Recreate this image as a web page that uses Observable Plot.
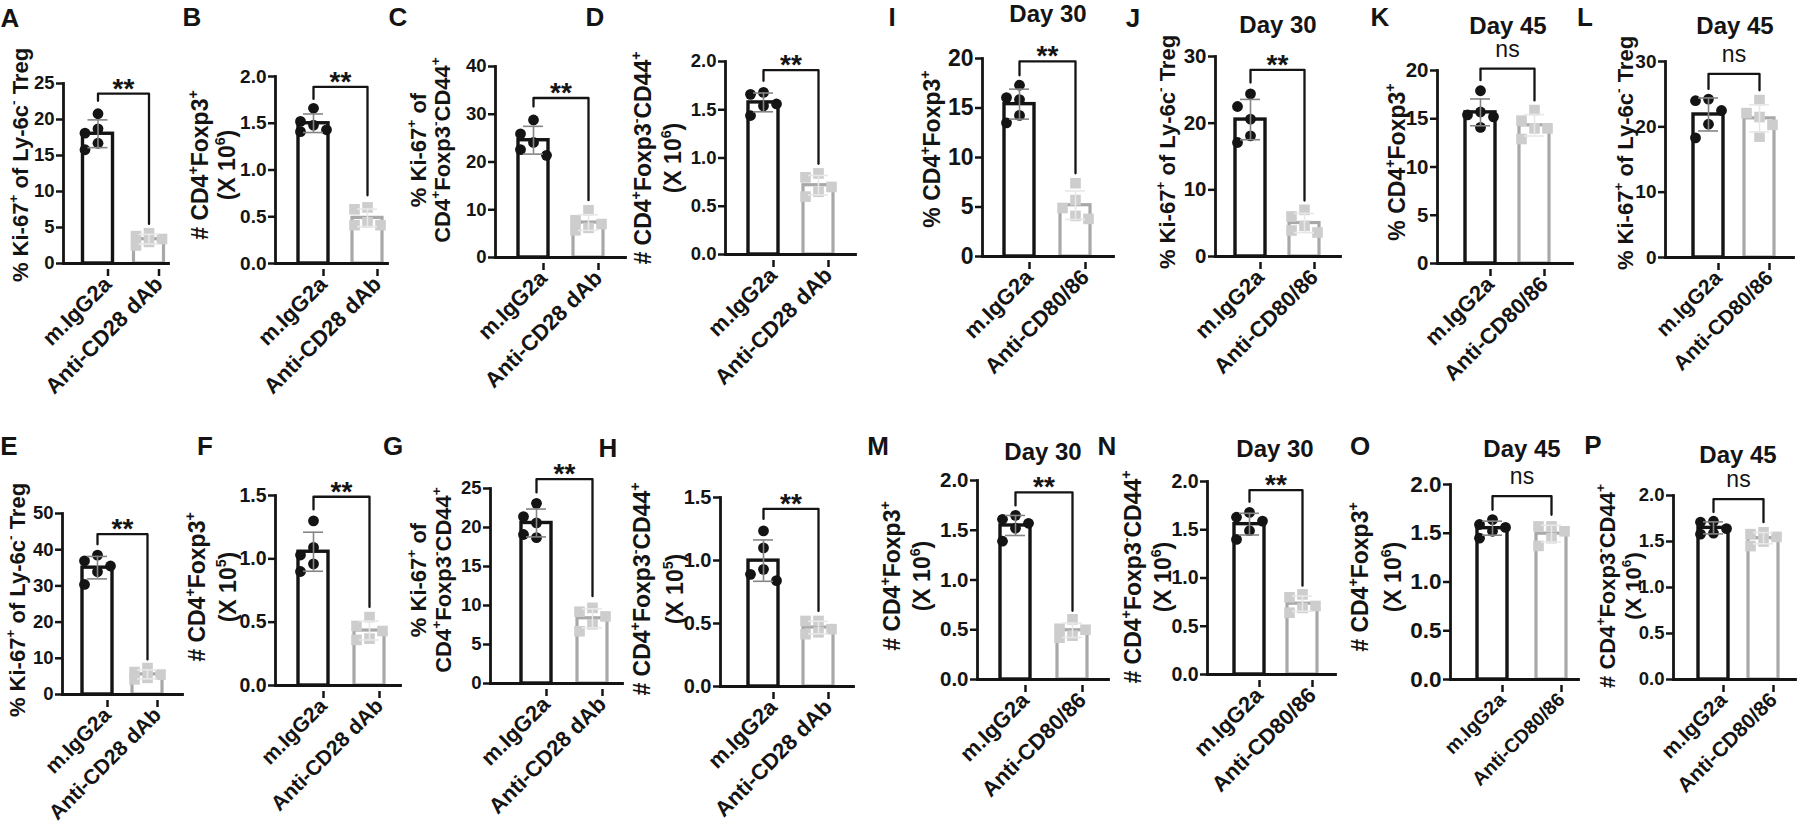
<!DOCTYPE html>
<html><head><meta charset="utf-8">
<script src="https://cdn.jsdelivr.net/npm/d3@7"></script>
<script src="https://cdn.jsdelivr.net/npm/@observablehq/plot@0.6"></script>
<style>
body{margin:0;background:#fff}
#fig{position:relative;width:1800px;height:832px;overflow:hidden;background:#fff}
#fig svg{position:absolute;left:0;overflow:visible}
</style>
</head><body><div id="fig"></div>
<script>
// ---------- DATA ----------
const groupsCD28 = ["m.IgG2a", "Anti-CD28 dAb"];
const groupsCD80 = ["m.IgG2a", "Anti-CD80/86"];

const A_ctrl = [20.8, 18.7, 18.1, 16.7, 15.8], A_trt = [4.2, 3.8, 3.4, 3.0, 2.5];
const B_ctrl = [1.66, 1.52, 1.48, 1.43, 1.41], B_trt = [0.60, 0.58, 0.44, 0.41, 0.41];
const C_ctrl = [28.8, 25.9, 24.1, 22.6, 21.4], C_trt = [9.9, 7.8, 7.0, 6.2, 5.7];
const D_ctrl = [1.68, 1.66, 1.56, 1.54, 1.44], D_trt = [0.84, 0.80, 0.70, 0.65, 0.60];
const E_ctrl = [38.5, 36.9, 35.5, 33.9, 30.4], E_trt = [7.3, 6.2, 5.5, 4.6, 4.2];
const F_ctrl = [1.30, 1.09, 1.03, 0.96, 0.90], F_trt = [0.54, 0.47, 0.43, 0.37, 0.36];
const G_ctrl = [23.1, 21.4, 20.6, 19.1, 18.7], G_trt = [9.7, 9.2, 8.6, 7.6, 6.7];
const H_ctrl = [1.235, 1.10, 0.93, 0.89, 0.84], H_trt = [0.52, 0.52, 0.455, 0.43, 0.415];
const I_ctrl = [17.3, 16.05, 15.85, 14.25, 13.5], I_trt = [7.4, 5.7, 4.9, 4.1, 3.8];
const J_ctrl = [24.4, 22.5, 20.6, 18.1, 17.1], J_trt = [7.0, 6.0, 4.6, 3.9, 3.6];
const K_ctrl = [17.9, 15.7, 15.4, 15.2, 14.1], K_trt = [15.9, 14.8, 14.0, 14.0, 12.9];
const L_ctrl = [24.25, 24.0, 22.5, 20.4, 18.3], L_trt = [24.1, 22.1, 21.5, 20.3, 18.5];
const M_ctrl = [1.65, 1.61, 1.57, 1.52, 1.39], M_trt = [0.605, 0.51, 0.50, 0.44, 0.42];
const N_ctrl = [1.68, 1.63, 1.59, 1.49, 1.40], N_trt = [0.83, 0.80, 0.71, 0.69, 0.64];
const O_ctrl = [1.64, 1.59, 1.56, 1.52, 1.45], O_trt = [1.57, 1.57, 1.52, 1.45, 1.37];
const P_ctrl = [1.72, 1.71, 1.64, 1.59, 1.58], P_trt = [1.60, 1.58, 1.55, 1.50, 1.45];

// significance brackets: [top, left leg end, right leg end] in data units
const A_br = [23.6, 22.6, 5.5], B_br = [1.89, 1.76, 0.73], C_br = [33.4, 31.6, 12.0], D_br = [1.91, 1.80, 0.94];
const E_br = [44.3, 41.5, 9.7], F_br = [1.49, 1.39, 0.62], G_br = [26.2, 24.5, 11.2], H_br = [1.41, 1.33, 0.60];
const I_br = [19.7, 18.3, 8.4], J_br = [28.0, 26.1, 8.4], K_br = [20.2, 19.0, 16.9], L_br = [28.1, 25.8, 25.6];
const M_br = [1.88, 1.75, 0.69], N_br = [1.91, 1.79, 0.92], O_br = [1.88, 1.74, 1.69], P_br = [1.96, 1.82, 1.71];

// tick values
const ticks25 = [0, 5, 10, 15, 20, 25];
const ticks20 = [0, 5, 10, 15, 20];
const ticks30 = [0, 10, 20, 30];
const ticks40 = [0, 10, 20, 30, 40];
const ticks50 = [0, 10, 20, 30, 40, 50];
const ticks2 = [0, 0.5, 1.0, 1.5, 2.0];
const ticks15 = [0, 0.5, 1.0, 1.5];

// axis labels (^x = superscript x)
const labKiLy = ["% Ki-67^+ of Ly-6c^- Treg"];
const labKiCD44 = ["% Ki-67^+ of", "CD4^+Foxp3^-CD44^+"];
const labPctTreg = ["% CD4^+Foxp3^+"];
const labNTreg6 = ["# CD4^+Foxp3^+", "(X 10^6)"];
const labNTreg5 = ["# CD4^+Foxp3^+", "(X 10^5)"];
const labNCD44_6 = ["# CD4^+Foxp3^-CD44^+", "(X 10^6)"];
const labNCD44_5 = ["# CD4^+Foxp3^-CD44^+", "(X 10^5)"];

// ---------- LAYOUT ----------
const FONT = "'Liberation Sans', Arial, Helvetica, sans-serif";
const panels = [
 {id:"A", row:0, ctrl:A_ctrl, trt:A_trt, groups:groupsCD28, ticks:ticks25, br:A_br, sig:"**", ylab:labKiLy,
  ax:63, axR:168, yTop:83, y0:263, c1:97.5, c2:148.5, letter:[10,27], ylx:[20], yly:165, tfs:18.5, yfs:22, xfs:22},
 {id:"B", row:0, ctrl:B_ctrl, trt:B_trt, groups:groupsCD28, ticks:ticks2, br:B_br, sig:"**", ylab:labNTreg6,
  ax:275, axR:387, yTop:76, y0:263, c1:313, c2:367, letter:[192,26], ylx:[200,227], yly:165, tfs:19, yfs:23, xfs:22},
 {id:"C", row:0, ctrl:C_ctrl, trt:C_trt, groups:groupsCD28, ticks:ticks40, br:C_br, sig:"**", ylab:labKiCD44,
  ax:495, axR:625, yTop:66, y0:257, c1:533, c2:588, letter:[398,26], ylx:[418,442], yly:150, tfs:18.5, yfs:22, xfs:22},
 {id:"D", row:0, ctrl:D_ctrl, trt:D_trt, groups:groupsCD28, ticks:ticks2, br:D_br, sig:"**", ylab:labNCD44_6,
  ax:725, axR:855, yTop:61, y0:254, c1:763, c2:818, letter:[595,26], ylx:[643,673], yly:158, tfs:18.5, yfs:23, xfs:22},
 {id:"I", row:0, ctrl:I_ctrl, trt:I_trt, groups:groupsCD80, ticks:ticks20, br:I_br, sig:"**", ylab:labPctTreg, title:"Day 30", tpos:[1048,22],
  ax:982, axR:1113, yTop:58, y0:256, c1:1019, c2:1075, letter:[892,26], ylx:[932], yly:149, tfs:23, yfs:23, xfs:22},
 {id:"J", row:0, ctrl:J_ctrl, trt:J_trt, groups:groupsCD80, ticks:ticks30, br:J_br, sig:"**", ylab:labKiLy, title:"Day 30", tpos:[1278,33],
  ax:1215, axR:1340, yTop:56, y0:256, c1:1250, c2:1304, letter:[1133,27], ylx:[1167], yly:152, tfs:20.5, yfs:22, xfs:22},
 {id:"K", row:0, ctrl:K_ctrl, trt:K_trt, groups:groupsCD80, ticks:ticks20, br:K_br, sig:"ns", ylab:labPctTreg, title:"Day 45", tpos:[1508,34],
  ax:1437, axR:1572, yTop:70, y0:263, c1:1480, c2:1534, letter:[1380,26], ylx:[1397], yly:162, tfs:20.5, yfs:23, xfs:22},
 {id:"L", row:0, ctrl:L_ctrl, trt:L_trt, groups:groupsCD80, ticks:ticks30, br:L_br, sig:"ns", ylab:labKiLy, title:"Day 45", tpos:[1735,34],
  ax:1665, axR:1793, yTop:61, y0:257, c1:1708, c2:1759, letter:[1585,26], ylx:[1625], yly:153, tfs:19, yfs:22, xfs:21},
 {id:"E", row:1, ctrl:E_ctrl, trt:E_trt, groups:groupsCD28, ticks:ticks50, br:E_br, sig:"**", ylab:labKiLy,
  ax:62, axR:182, yTop:513, y0:694, c1:97, c2:147, letter:[9,455], ylx:[17], yly:600, tfs:18.5, yfs:22, xfs:21},
 {id:"F", row:1, ctrl:F_ctrl, trt:F_trt, groups:groupsCD28, ticks:ticks15, br:F_br, sig:"**", ylab:labNTreg5,
  ax:275, axR:400, yTop:495, y0:685, c1:313, c2:369, letter:[205,455], ylx:[197,228], yly:587, tfs:19.5, yfs:23, xfs:21},
 {id:"G", row:1, ctrl:G_ctrl, trt:G_trt, groups:groupsCD28, ticks:ticks25, br:G_br, sig:"**", ylab:labKiCD44,
  ax:490, axR:622, yTop:488, y0:683, c1:536, c2:592, letter:[393,455], ylx:[418,443], yly:580, tfs:18.5, yfs:22, xfs:22},
 {id:"H", row:1, ctrl:H_ctrl, trt:H_trt, groups:groupsCD28, ticks:ticks15, br:H_br, sig:"**", ylab:labNCD44_5,
  ax:720, axR:853, yTop:497, y0:686, c1:763, c2:818, letter:[608,457], ylx:[642,675], yly:589, tfs:20, yfs:23, xfs:22},
 {id:"M", row:1, ctrl:M_ctrl, trt:M_trt, groups:groupsCD80, ticks:ticks2, br:M_br, sig:"**", ylab:labNTreg6, title:"Day 30", tpos:[1043,460],
  ax:977, axR:1108, yTop:480, y0:679, c1:1015, c2:1072, letter:[878,455], ylx:[892,922], yly:576, tfs:20.5, yfs:23, xfs:22},
 {id:"N", row:1, ctrl:N_ctrl, trt:N_trt, groups:groupsCD80, ticks:ticks2, br:N_br, sig:"**", ylab:labNCD44_6, title:"Day 30", tpos:[1275,457],
  ax:1207, axR:1335, yTop:481, y0:674, c1:1249, c2:1302, letter:[1107,455], ylx:[1133,1163], yly:577, tfs:19.5, yfs:23, xfs:22},
 {id:"O", row:1, ctrl:O_ctrl, trt:O_trt, groups:groupsCD80, ticks:ticks2, br:O_br, sig:"ns", ylab:labNTreg6, title:"Day 45", tpos:[1522,457],
  ax:1450, axR:1578, yTop:484, y0:679, c1:1492, c2:1551, letter:[1360,455], ylx:[1360,1393], yly:577, tfs:22.5, yfs:23, xfs:19.5},
 {id:"P", row:1, ctrl:P_ctrl, trt:P_trt, groups:groupsCD80, ticks:ticks2, br:P_br, sig:"ns", ylab:labNCD44_6, title:"Day 45", tpos:[1738,463],
  ax:1673, axR:1795, yTop:495, y0:679, c1:1713, c2:1763, letter:[1593,454], ylx:[1607,1633], yly:586, tfs:18.5, yfs:22, xfs:21}
];

// GraphPad-like column scatter: returns column index per value
function swarm(vals, ppu) {
  const order = d3.range(vals.length).sort((a, b) => vals[b] - vals[a]);
  const cols = [0, -1, 1];
  const placed = [], off = new Array(vals.length);
  for (const i of order) {
    let best = 0, bestD = -1;
    for (const c of cols) {
      const ds = placed.filter(q => q.c === c).map(q => Math.abs(q.v - vals[i]) * ppu);
      const m = ds.length ? d3.min(ds) : Infinity;
      if (m >= 14) { best = c; bestD = m; break; }
      if (m > bestD) { bestD = m; best = c; }
    }
    placed.push({c: best, v: vals[i]});
    off[i] = best;
  }
  return off;
}

function rich(sel, str, fs) {
  const parts = str.split(/(\^.)/);
  let raised = false;
  for (const part of parts) {
    if (!part) continue;
    if (part[0] === "^") {
      sel.append("tspan").attr("font-size", fs * 0.62).attr("dy", -fs * 0.42).text(part[1]);
      raised = true;
    } else {
      sel.append("tspan").attr("dy", raised ? fs * 0.42 : 0).text(part);
      raised = false;
    }
  }
}

const fig = document.getElementById("fig");
const H = 416;
for (const p of panels) {
  const rowTop = p.row ? 416 : 0;
  const step = p.c2 - p.c1;
  const ymax = p.ticks[p.ticks.length - 1];
  const ppu = (p.y0 - p.yTop) / ymax;
  const pts = [p.ctrl, p.trt].map((vals, g) => {
    const off = swarm(vals, ppu);
    return vals.map((v, i) => ({x: g + off[i] * 13 / step, y: v}));
  });
  const st = [p.ctrl, p.trt].map((vals, g) => ({g, m: d3.mean(vals), sd: d3.deviation(vals)}));
  const hw = 15 / step, cw = 10 / step;
  const caps = g => [{g, y: st[g].m - st[g].sd}, {g, y: st[g].m + st[g].sd}];
  const bracket = [{x: 0, y: p.br[1]}, {x: 0, y: p.br[0]}, {x: 1, y: p.br[0]}, {x: 1, y: p.br[2]}];
  const fmt = ymax <= 2 ? d3.format(".1f") : d3.format("d");
  const isNs = p.sig === "ns";
  const svg = Plot.plot({
    width: 1800, height: H,
    marginLeft: p.ax, marginRight: 1800 - p.axR, marginTop: p.yTop - rowTop, marginBottom: rowTop + H - p.y0,
    x: {type: "linear", domain: [0, 1], range: [p.c1, p.c2]},
    y: {domain: [0, ymax], range: [p.y0 - rowTop, p.yTop - rowTop]},
    style: {background: "transparent", overflow: "visible", fontFamily: FONT, color: "#111"},
    marks: [
      Plot.rect([st[0]], {x1: d => d.g - hw, x2: d => d.g + hw, y1: 0, y2: "m", fill: "white", stroke: "#141414", strokeWidth: 3.4}),
      Plot.rect([st[1]], {x1: d => d.g - hw, x2: d => d.g + hw, y1: 0, y2: "m", fill: "white", stroke: "#a8a8a8", strokeWidth: 3.2}),
      Plot.dot(pts[0], {x: "x", y: "y", r: 5.4, fill: "#141414", stroke: "none"}),
      Plot.dot(pts[1], {x: "x", y: "y", r: 6, symbol: "square", fill: "#cdcdcd", stroke: "none"}),
      Plot.ruleX([st[0]], {x: "g", y1: d => d.m - d.sd, y2: d => d.m + d.sd, stroke: "#858585", strokeWidth: 1.6}),
      Plot.ruleY(caps(0), {x1: d => d.g - cw, x2: d => d.g + cw, y: "y", stroke: "#858585", strokeWidth: 1.6}),
      Plot.ruleX([st[1]], {x: "g", y1: d => d.m - d.sd, y2: d => d.m + d.sd, stroke: "#e8e8e8", strokeWidth: 1.6}),
      Plot.ruleY(caps(1), {x1: d => d.g - cw, x2: d => d.g + cw, y: "y", stroke: "#e8e8e8", strokeWidth: 1.6}),
      Plot.line(bracket, {x: "x", y: "y", stroke: "#141414", strokeWidth: 2.3}),
      Plot.text([{x: 0.5, y: p.br[0]}], {x: "x", y: "y", text: () => p.sig, lineAnchor: "bottom",
        dy: isNs ? -12 : 4, fontSize: isNs ? 23 : 28, fontWeight: isNs ? "normal" : "bold", fill: "#141414"}),
      Plot.frame({anchor: "left", stroke: "#141414", strokeWidth: 2.8}),
      Plot.frame({anchor: "bottom", stroke: "#141414", strokeWidth: 2.8}),
      Plot.axisY({ticks: p.ticks, tickFormat: fmt, tickSize: 7, tickPadding: 2, fontSize: p.tfs, fontWeight: "bold",
        strokeWidth: 2.5, stroke: "#141414", fill: "#141414", label: null}),
      Plot.axisX({ticks: [0, 1], tickFormat: i => p.groups[i], tickRotate: -45, tickSize: 7, tickPadding: 4,
        fontSize: p.xfs, fontWeight: "bold", strokeWidth: 2.5, stroke: "#141414", fill: "#141414", label: null, dx: 10, dy: 6})
    ]
  });
  svg.style.top = rowTop + "px";
  const s = d3.select(svg);
  s.append("text").attr("x", p.letter[0]).attr("y", p.letter[1] - rowTop)
    .attr("font-size", 26).attr("font-weight", "bold").attr("font-family", FONT).attr("fill", "#141414").text(p.id);
  if (p.title) {
    s.append("text").attr("x", p.tpos[0]).attr("y", p.tpos[1] - rowTop).attr("text-anchor", "middle")
      .attr("font-size", 24).attr("font-weight", "bold").attr("font-family", FONT).attr("fill", "#141414").text(p.title);
  }
  p.ylab.forEach((line, k) => {
    const t = s.append("text")
      .attr("transform", `translate(${p.ylx[k] + 0.35 * p.yfs},${p.yly - rowTop}) rotate(-90)`)
      .attr("text-anchor", "middle").attr("font-size", p.yfs).attr("font-weight", "bold")
      .attr("font-family", FONT).attr("fill", "#141414");
    rich(t, line, p.yfs);
  });
  fig.appendChild(svg);
}
</script>
</body></html>
